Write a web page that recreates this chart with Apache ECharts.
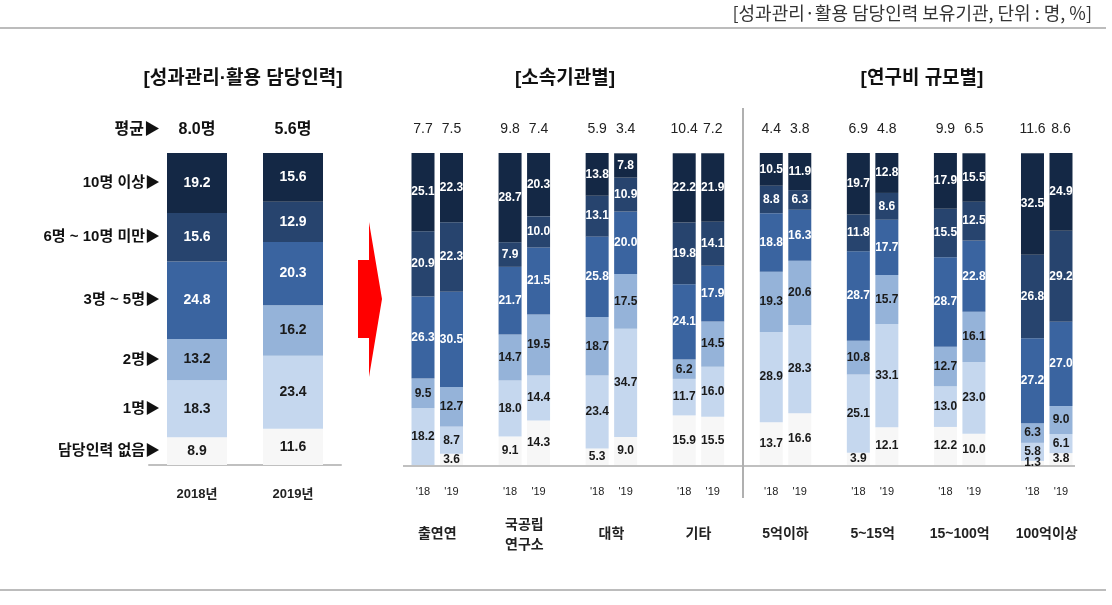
<!DOCTYPE html>
<html><head><meta charset="utf-8">
<script src="https://cdn.jsdelivr.net/npm/echarts@6/dist/echarts.min.js"></script>
<style>html,body{margin:0;padding:0;background:#fff}#c{width:1112px;height:605px}</style>
</head><body><div id="c"></div>
<script>
// ---- data ----
const levels = ['담당인력 없음', '1명', '2명', '3명 ~ 5명', '6명 ~ 10명 미만', '10명 이상'];
const yearsLeft = ['2018년', '2019년'];
const avgLeft = ['8.0명', '5.6명'];
// shares by level: [없음, 1명, 2명, 3~5명, 6~10명 미만, 10명 이상]
const total2018 = [8.9, 18.3, 13.2, 24.8, 15.6, 19.2];
const total2019 = [11.6, 23.4, 16.2, 20.3, 12.9, 15.6];

const groups = ['출연연', '국공립\n연구소', '대학', '기타', '5억이하', '5~15억', '15~100억', '100억이상'];
const yearTicks = ["'18", "'19"];
const avg18 = [7.7, 9.8, 5.9, 10.4, 4.4, 6.9, 9.9, 11.6];
const avg19 = [7.5, 7.4, 3.4, 7.2, 3.8, 4.8, 6.5, 8.6];
const share18 = [
  [0, 18.2, 9.5, 26.3, 20.9, 25.1],
  [9.1, 18.0, 14.7, 21.7, 7.9, 28.7],
  [5.3, 23.4, 18.7, 25.8, 13.1, 13.8],
  [15.9, 11.7, 6.2, 24.1, 19.8, 22.2],
  [13.7, 28.9, 19.3, 18.8, 8.8, 10.5],
  [3.9, 25.1, 10.8, 28.7, 11.8, 19.7],
  [12.2, 13.0, 12.7, 28.7, 15.5, 17.9],
  [1.3, 5.8, 6.3, 27.2, 26.8, 32.5]
];
const share19 = [
  [3.6, 8.7, 12.7, 30.5, 22.3, 22.3],
  [14.3, 14.4, 19.5, 21.5, 10.0, 20.3],
  [9.0, 34.7, 17.5, 20.0, 10.9, 7.8],
  [15.5, 16.0, 14.5, 17.9, 14.1, 21.9],
  [16.6, 28.3, 20.6, 16.3, 6.3, 11.9],
  [12.1, 33.1, 15.7, 17.7, 8.6, 12.8],
  [10.0, 23.0, 16.1, 22.8, 12.5, 15.5],
  [3.8, 6.1, 9.0, 27.0, 29.2, 24.9]
];

// ---- style ----
const FF = '"Liberation Sans","Noto Sans CJK KR",sans-serif';
const colors = ['#f7f7f7', '#c5d7ee', '#95b3d9', '#3a64a0', '#27446e', '#142845'];
const txtCol = k => (k < 3 ? '#1a1a1a' : '#ffffff');
const TOP = 153, H = 312;

const grids = [{ left: 149, top: TOP, width: 192, height: H }];
const xAxes = [], yAxes = [], series = [];

function fmt(p) { return p.value ? Number(p.value).toFixed(1) : ''; }

// left panel
xAxes.push({ gridIndex: 0, type: 'category', data: yearsLeft, position: 'bottom',
  axisLine: { show: true, lineStyle: { color: '#c0c0c0', width: 2 } }, axisTick: { show: false },
  axisLabel: { interval: 0, margin: 23, fontFamily: FF, fontSize: 13, fontWeight: 'bold', color: '#222' } });
xAxes.push({ gridIndex: 0, type: 'category', data: avgLeft, position: 'top',
  axisLine: { show: false }, axisTick: { show: false },
  axisLabel: { interval: 0, margin: 15, fontFamily: FF, fontSize: 16, fontWeight: 'bold', color: '#111' } });
yAxes.push({ gridIndex: 0, type: 'value', min: 0, max: 100, show: false });
levels.forEach((lv, k) => {
  series.push({ type: 'bar', name: lv, xAxisIndex: 0, yAxisIndex: 0, stack: 'L', barWidth: 60,
    data: [total2018[k], total2019[k]], itemStyle: { color: colors[k] },
    label: { show: true, position: 'inside', formatter: fmt, fontFamily: FF, fontSize: 14, fontWeight: 'bold', color: txtCol(k) } });
});

// middle & right panels
groups.forEach((g, i) => {
  const gi = i + 1;
  grids.push({ left: 423 + 87.07 * i - 14.25, top: TOP, width: 57, height: H });
  xAxes.push({ gridIndex: gi, type: 'category', data: yearTicks, position: 'bottom',
    axisLine: { show: false }, axisTick: { show: false },
    axisLabel: { interval: 0, margin: 21, fontFamily: FF, fontSize: 11, color: '#222' },
    name: g, nameLocation: 'middle', nameGap: g.indexOf('\n') >= 0 ? 50 : 59,
    nameTextStyle: { fontFamily: FF, fontSize: 14, fontWeight: 'bold', color: '#222', lineHeight: 20 } });
  xAxes.push({ gridIndex: gi, type: 'category', data: [avg18[i].toFixed(1), avg19[i].toFixed(1)], position: 'top',
    axisLine: { show: false }, axisTick: { show: false },
    axisLabel: { interval: 0, hideOverlap: false, margin: 17, fontFamily: FF, fontSize: 14, color: '#222' } });
  yAxes.push({ gridIndex: gi, type: 'value', min: 0, max: 100, show: false });
  levels.forEach((lv, k) => {
    series.push({ type: 'bar', name: lv, xAxisIndex: gi * 2, yAxisIndex: gi, stack: 'G' + i, barWidth: 23,
      data: [share18[i][k], share19[i][k]], itemStyle: { color: colors[k] },
      label: { show: true, position: 'inside', formatter: fmt, fontFamily: FF, fontSize: 12, fontWeight: 'bold', color: txtCol(k) } });
  });
});

const chart = echarts.init(document.getElementById('c'), null, { renderer: 'canvas' });
chart.setOption({ animation: false, backgroundColor: '#fff', grid: grids, xAxis: xAxes, yAxis: yAxes, series: series });

// ---- decorations ----
const graphic = [];
const txt = (x, y, s, font, align, fill) => graphic.push({ type: 'text', x: x, y: y, silent: true,
  style: { text: s, font: font, textAlign: align || 'center', textVerticalAlign: 'middle', fill: fill || '#111' } });
const line = (x1, y1, x2, y2, c, w) => graphic.push({ type: 'line', silent: true,
  shape: { x1: x1, y1: y1, x2: x2, y2: y2 }, style: { stroke: c, lineWidth: w } });

txt(1092, 13, '[성과관리·활용 담당인력 보유기관, 단위 : 명, %]', '18px "Noto Sans CJK KR",sans-serif', 'right', '#333');
line(0, 28, 1106, 28, '#a6a6a6', 1.5);
line(0, 590, 1106, 590, '#a6a6a6', 1.5);
txt(243, 79, '[성과관리·활용 담당인력]', 'bold 19px ' + FF);
txt(565, 79, '[소속기관별]', 'bold 19px ' + FF);
txt(922, 79, '[연구비 규모별]', 'bold 19px ' + FF);
line(403, 466, 1075, 466, '#c0c0c0', 2);
line(743, 108, 743, 498, '#b0b0b0', 2);
graphic.push({ type: 'polygon', silent: true,
  shape: { points: [[358, 260], [369, 260], [369, 222], [382, 299], [369, 377], [369, 338], [358, 338]] },
  style: { fill: '#ff0000' } });
txt(160, 130, '평균▶', 'bold 16px ' + FF, 'right');
let cum = 0;
levels.forEach((lv, k) => {
  const mid = cum + total2018[k] / 2; cum += total2018[k];
  const y = chart.convertToPixel({ gridIndex: 0 }, [0, mid])[1];
  txt(160, y, lv + '▶', 'bold 15px ' + FF, 'right');
});
chart.setOption({ graphic: graphic });
</script></body></html>
